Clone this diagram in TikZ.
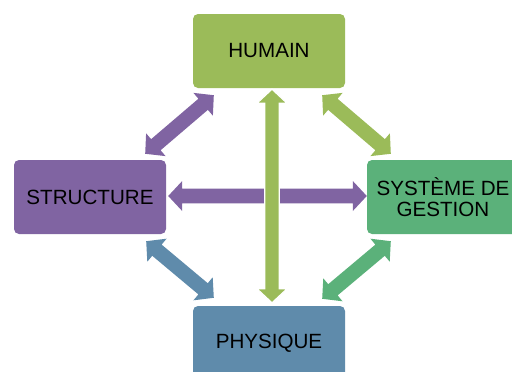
\documentclass[tikz,border=0pt]{standalone}
\usepackage{fontspec}
\setmainfont{Liberation Sans}
\usetikzlibrary{calc}
\definecolor{cHum}{HTML}{9BBB59}
\definecolor{cStr}{HTML}{8064A2}
\definecolor{cSys}{HTML}{5BB17A}
\definecolor{cPhy}{HTML}{5F8BAB}
\newcommand\ahl{14pt}
\newcommand\ahw{15pt}
\newcommand\asw{7.3pt}
\newcommand\bidir[3]{%
  \filldraw[#1] (#2)
  -- ($(#2)!\ahl!(#3)!\ahw!90:(#3)$)
  -- ($(#2)!\ahl!(#3)!\asw!90:(#3)$)
  -- ($(#3)!\ahl!(#2)!\asw!-90:(#2)$)
  -- ($(#3)!\ahl!(#2)!\ahw!-90:(#2)$)
  -- (#3)
  -- ($(#3)!\ahl!(#2)!\ahw!90:(#2)$)
  -- ($(#3)!\ahl!(#2)!\asw!90:(#2)$)
  -- ($(#2)!\ahl!(#3)!\asw!-90:(#3)$)
  -- ($(#2)!\ahl!(#3)!\ahw!-90:(#3)$)
  -- cycle;}
\tikzset{
  box/.style={rectangle, rounded corners=5pt, minimum width=152pt, minimum height=74pt,
    inner sep=0pt, align=center, text=black, font=\fontsize{20.6}{21}\selectfont},
}
\begin{document}
\begin{tikzpicture}[x=1pt,y=-1pt]
\useasboundingbox (0,0) rectangle (512,372);
\clip (0,0) rectangle (512,372);
\node[box, fill=cHum] (hum) at (269,51) {HUMAIN};
\node[box, fill=cStr] (str) at (90,197) {STRUCTURE};
\node[box, fill=cSys] (sys) at (443,197) {SYSTÈME DE\\GESTION};
\node[box, fill=cPhy] (phy) at (269,343) {PHYSIQUE};
% arrow end points
\coordinate (hs) at ($(hum.south)+(3,1)$);
\coordinate (ph) at ($(phy.north)+(3,-3)$);
\coordinate (sr) at ($(str.east)+(2,-1)$);
\coordinate (sy) at ($(sys.west)+(0,-1)$);
\coordinate (tl1) at ($(str.north east)+(-21,-6)$);
\coordinate (tl2) at ($(hum.south west)+(21,7)$);
\coordinate (tr1) at ($(hum.south east)+(-23,7)$);
\coordinate (tr2) at ($(sys.north west)+(24,-6)$);
\coordinate (bl1) at ($(str.south east)+(-20,7)$);
\coordinate (bl2) at ($(phy.north west)+(21,-8)$);
\coordinate (br1) at ($(sys.south west)+(24,7)$);
\coordinate (br2) at ($(phy.north east)+(-23,-7)$);
% connectors
\bidir{fill=cStr, draw=none}{sr}{sy}
\bidir{fill=cHum, draw=white, line width=1.2pt}{hs}{ph}
\bidir{fill=cStr, draw=none}{tl1}{tl2}
\bidir{fill=cHum, draw=none}{tr1}{tr2}
\bidir{fill=cPhy, draw=none}{bl1}{bl2}
\bidir{fill=cSys, draw=none}{br1}{br2}
\end{tikzpicture}
\end{document}
